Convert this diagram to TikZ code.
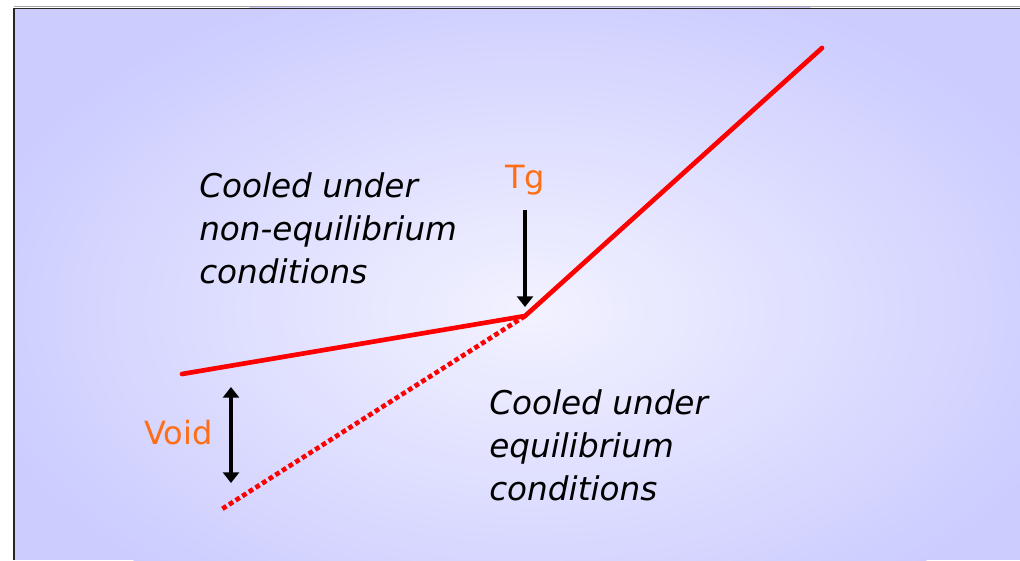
\documentclass[tikz,border=0pt]{standalone}
\usepackage{fontspec}
\setmainfont{DejaVu Sans}
\usetikzlibrary{arrows.meta}
\definecolor{bgout}{RGB}{204,204,255}
\definecolor{bgin}{RGB}{242,242,255}
\definecolor{curvered}{RGB}{255,0,0}
\definecolor{lblorange}{RGB}{255,110,20}
\pgfdeclareradialshading{bgrad}{\pgfpoint{0bp}{0bp}}{color(0bp)=(bgin); color(25bp)=(bgout); color(50bp)=(bgout)}
\tikzset{
  redline/.style={draw=curvered, line width=3.5pt, line cap=round, line join=miter},
  dotline/.style={draw=curvered, line width=3.5pt, dash pattern=on 3.6pt off 2.3pt},
  arr/.style={draw=black, line width=3.5pt, -{Triangle[width=12pt,length=8pt]}},
  darr/.style={draw=black, line width=3.5pt, {Triangle[width=12pt,length=8pt]}-{Triangle[width=12pt,length=8pt]}},
  lbl/.style={text=lblorange, font=\fontsize{24}{28}\selectfont, inner sep=0pt},
  txt/.style={font=\fontsize{24.5}{31.9}\selectfont\itshape, align=left, inner sep=0pt}
}
\begin{document}
\begin{tikzpicture}[x=0.75pt,y=-0.75pt]
\useasboundingbox (0,0) rectangle (1020,560);
% background
\fill[bgout] (14,8) rectangle (1020,560);
\begin{scope}
  \clip (14,8) rectangle (1020,560);
  \shade[shading=bgrad] (530,310) ellipse [x radius=430pt, y radius=260pt];
\end{scope}
% frame
\draw[line width=0.8pt, black!35] (14,6.8) -- (1020,6.8);
\draw[line width=1.4pt, black!85] (14,560) -- (14,8.5) -- (1020,8.5);
% curve
\coordinate (L) at (182,374);
\coordinate (K) at (525,316);
\coordinate (R) at (822,48);
\coordinate (D) at (222,509);
\draw[dotline] (K) -- (D);
\draw[redline] (L) -- (K) -- (R);
% labels
\node[lbl, anchor=base] (tg) at (525,188) {Tg};
\coordinate (tgtip) at (525,307);
\draw[arr, shorten <=11pt] (tg.south) -- (tgtip);
\node[lbl, anchor=base west] (void) at (144,444) {Void};
\coordinate (vtop) at (231,387);
\coordinate (vbot) at (231,483);
\draw[darr] (vtop) -- (vbot);
% texts
\node[txt, anchor=base west] (noneq) at (199,283) {Cooled under\\non-equilibrium\\conditions};
\node[txt, anchor=base west] (eq) at (489,500) {Cooled under\\equilibrium\\conditions};
\end{tikzpicture}
\end{document}
